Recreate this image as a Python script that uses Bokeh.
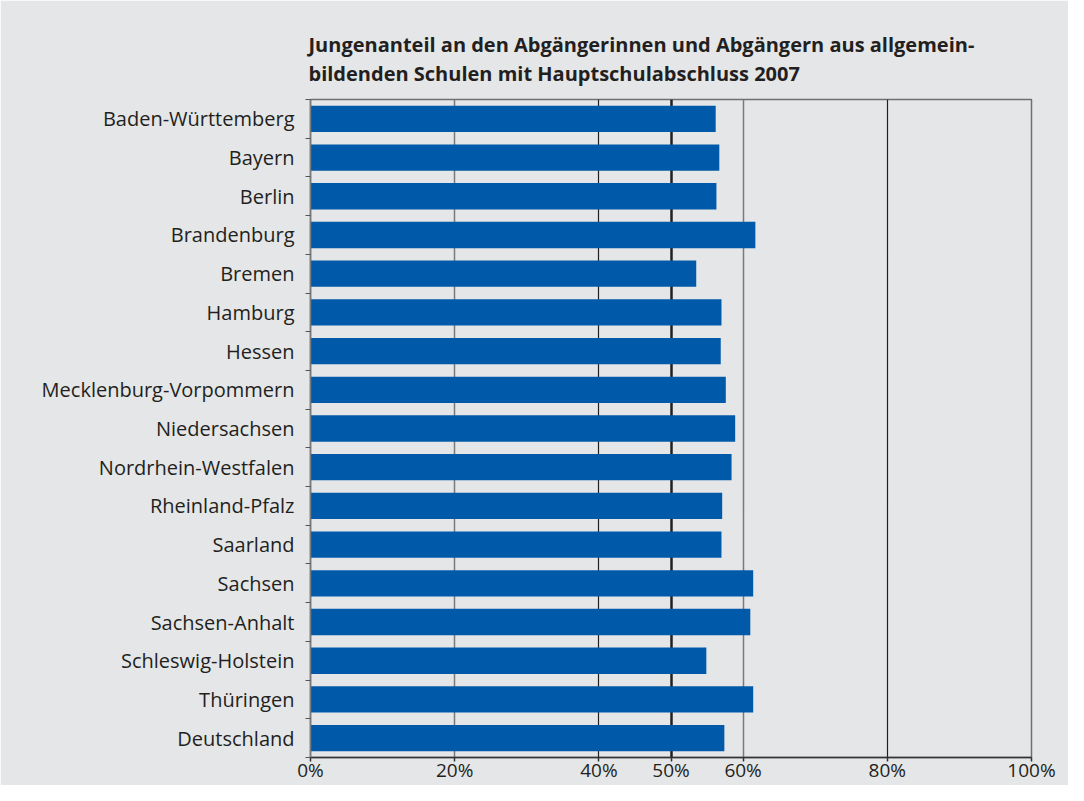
from bokeh.plotting import figure
from bokeh.models import Range1d, FixedTicker, Grid, Title, ColumnDataSource
from bokeh.embed import file_html
from bokeh.resources import INLINE

labels = ["Baden-Württemberg", "Bayern", "Berlin", "Brandenburg", "Bremen", "Hamburg",
          "Hessen", "Mecklenburg-Vorpommern", "Niedersachsen", "Nordrhein-Westfalen",
          "Rheinland-Pfalz", "Saarland", "Sachsen", "Sachsen-Anhalt", "Schleswig-Holstein",
          "Thüringen", "Deutschland"]
values = [56.2, 56.7, 56.3, 61.7, 53.5, 57.0, 56.9, 57.6, 58.9, 58.4, 57.1, 57.0,
          61.4, 61.0, 54.9, 61.4, 57.4]
x_ticks = [0, 20, 40, 50, 60, 80, 100]
x_tick_labels = ["0%", "20%", "40%", "50%", "60%", "80%", "100%"]
title_lines = ["Jungenanteil an den Abgängerinnen und Abgängern aus allgemein-",
               "bildenden Schulen mit Hauptschulabschluss 2007"]

BG = "#e5e6e8"
BAR = "#005aa9"
TXT = "#231f20"
FONT = "Open Sans"

n = len(labels)
pos = [i + 0.5 for i in range(n)]
src = ColumnDataSource(dict(y=pos, v=values, name=labels))

p = figure(width=1068, height=785, output_backend="svg", toolbar_location=None,
           x_range=Range1d(0, 100), y_range=Range1d(n, 0),
           background_fill_color=BG, border_fill_color=BG,
           min_border_left=310, min_border_right=37, min_border_top=99, min_border_bottom=28)

p.title = Title(text="\n".join(title_lines), align="left", text_font=FONT,
                text_font_size="20px", text_font_style="bold", text_color=TXT,
                text_line_height=1.1, offset=-2, standoff=24)

p.outline_line_color = "#6f6f6f"
p.outline_line_width = 1.5

# grid lines
p.xgrid.ticker = FixedTicker(ticks=[20, 60, 100])
p.xgrid.grid_line_color = "#7a7a7a"
p.xgrid.grid_line_width = 1.5
p.ygrid.grid_line_color = None
p.add_layout(Grid(dimension=0, ticker=FixedTicker(ticks=[40, 80]),
                  grid_line_color=TXT, grid_line_width=1.2))
p.add_layout(Grid(dimension=0, ticker=FixedTicker(ticks=[50]),
                  grid_line_color=TXT, grid_line_width=2.5))

p.hbar(y="y", right="v", left=0, height=0.68, source=src, fill_color=BAR, line_color=None)

# x axis
xa = p.xaxis[0]
xa.ticker = FixedTicker(ticks=x_ticks)
xa.major_label_overrides = {t: l for t, l in zip(x_ticks, x_tick_labels)}
xa.axis_line_color = "#333333"
xa.axis_line_width = 1.5
xa.major_tick_line_color = "#333333"
xa.major_tick_line_width = 1.5
xa.major_tick_out = 4
xa.major_tick_in = 0
xa.minor_tick_line_color = None
xa.major_label_standoff = -5
xa.major_label_text_font = FONT
xa.major_label_text_font_size = "19px"
xa.major_label_text_color = TXT

# y axis
ya = p.yaxis[0]
ya.ticker = FixedTicker(ticks=pos, minor_ticks=list(range(n + 1)))
ya.major_label_overrides = {p_: l for p_, l in zip(pos, labels)}
ya.axis_line_color = "#7a7a7a"
ya.axis_line_width = 1.5
ya.major_tick_line_color = None
ya.major_tick_out = 0
ya.major_tick_in = 0
ya.minor_tick_line_color = "#555555"
ya.minor_tick_out = 5
ya.minor_tick_in = 0
ya.major_label_standoff = 11
ya.major_label_text_font = FONT
ya.major_label_text_font_size = "20px"
ya.major_label_text_color = TXT

open("out.html", "w").write(file_html(p, INLINE))
